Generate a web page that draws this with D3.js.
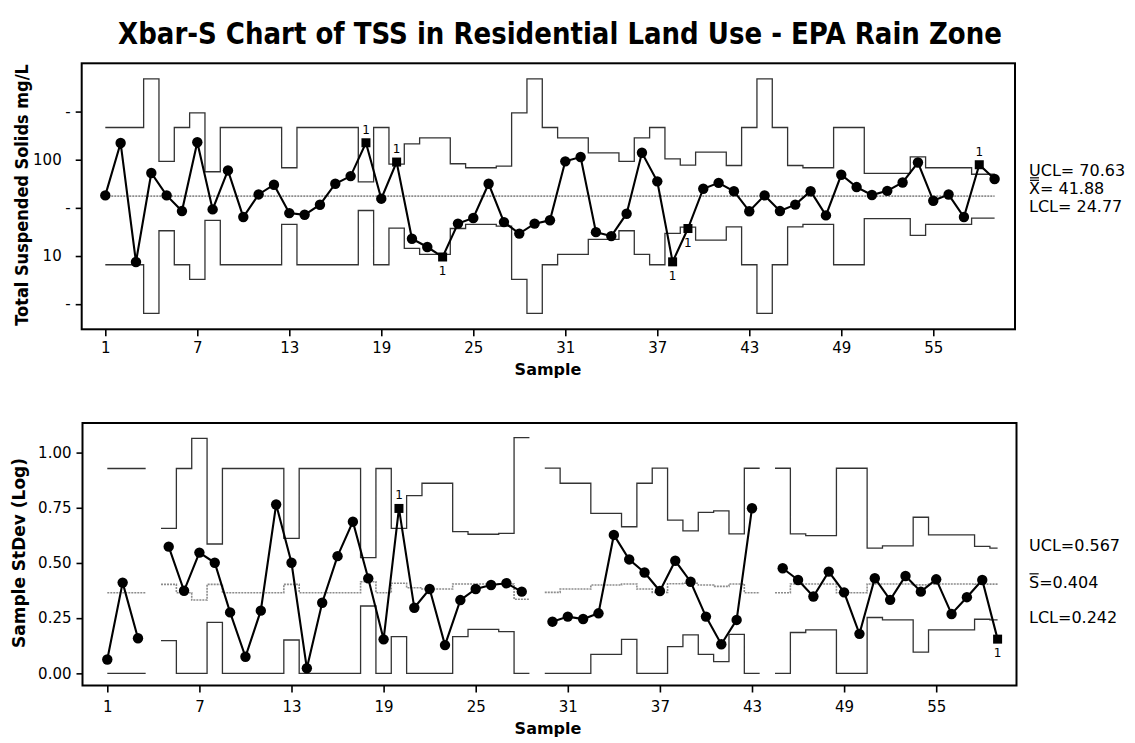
<!DOCTYPE html>
<html><head><meta charset="utf-8">
<script src="https://cdn.jsdelivr.net/npm/d3@7/dist/d3.min.js"></script>
<style>
body{margin:0;background:#fff;}
text{font-family:"DejaVu Sans",Verdana,sans-serif;fill:#000;}
</style>
</head><body>
<svg id="chart" width="1135" height="743"></svg>
<script>
// ---------------- DATA ----------------
const samples = d3.range(1, 60);
const xTickValues = [1, 7, 13, 19, 25, 31, 37, 43, 49, 55];

// Xbar chart (log scale, mg/L)
const xbarValues = [42.6,149,8.67,72.8,42.6,29.3,152,30.5,77.4,25.4,
  43.6,55.0,27.9,26.8,34.1,56.3,67.6,150,39.4,94.6,
  15.1,12.4,9.77,21.7,24.8,56.3,22.5,17.1,21.7,23.5,
  96.2,106.6,17.7,16.1,27.5,118,59.6,8.7,19.3,50,
  57.5,47.1,29.2,42.6,29.3,34.2,47.1,26.4,69.8,52,
  43,47.5,58,93.5,37.5,43.5,25.4,88.7,63];
const xbarUCL = [216,216,216,692,95.9,216,307,75.0,216,216,
  216,216,82.5,216,216,216,216,59.0,216,90.0,
  146,169,169,90.8,82.5,82.5,85.8,307,692,216,
  169,169,118,118,95.9,169,216,102,87.7,120,
  120,87.1,216,692,216,87.1,82.5,82.5,216,216,
  72.0,72.0,72.0,107,82.5,82.5,82.5,70.63,70.63];
const xbarLCL = [8.12,8.12,8.12,2.54,18.3,8.12,5.71,23.4,8.12,8.12,
  8.12,8.12,21.3,8.12,8.12,8.12,8.12,29.7,8.12,19.5,
  12.0,10.4,10.4,19.3,21.3,21.3,20.4,5.71,2.54,8.12,
  10.4,10.4,14.9,14.9,18.3,10.4,8.12,17.2,20.0,14.6,
  14.6,20.1,8.12,2.54,8.12,20.1,21.3,21.3,8.12,8.12,
  24.4,24.4,24.4,16.4,21.3,21.3,21.3,24.77,24.77];
const xbarCenter = 41.88;
const xbarFlagged = [18, 20, 23, 38, 39, 58];
const xbarTickValues = [3.162, 10, 31.62, 100, 316.2];
const xbarTickLabels = ["-", "10", "-", "100", "-"];
const xbarSummary = ["UCL= 70.63", "X= 41.88", "LCL= 24.77"];

// S chart (StDev of log values)
const stdevValues = [0.063,0.411,0.159,null,0.574,0.374,0.547,0.501,0.276,0.075,
  0.284,0.765,0.501,0.023,0.320,0.531,0.687,0.430,0.154,0.747,
  0.297,0.382,0.128,0.332,0.382,0.400,0.408,0.370,null,0.234,
  0.257,0.246,0.272,0.627,0.516,0.457,0.373,0.510,0.415,0.257,
  0.132,0.242,0.748,null,0.476,0.423,0.348,0.461,0.367,0.179,
  0.431,0.333,0.441,0.370,0.426,0.269,0.345,0.423,0.155];
const stdevUCL = [0.928,0.928,0.928,null,0.657,0.928,1.064,0.586,0.928,0.928,
  0.928,0.928,0.611,0.928,0.928,0.928,0.928,0.524,0.928,0.657,
  0.805,0.861,0.861,0.642,0.630,0.630,0.634,1.068,null,0.930,
  0.861,0.861,0.725,0.725,0.664,0.861,0.930,0.694,0.645,0.729,
  0.736,0.632,0.929,null,0.929,0.632,0.624,0.624,0.929,0.929,
  0.567,0.577,0.577,0.707,0.627,0.627,0.627,0.575,0.567];
const stdevCL = [0.365,0.365,0.365,null,0.403,0.365,0.332,0.403,0.365,0.365,
  0.365,0.365,0.403,0.365,0.365,0.365,0.365,0.415,0.365,0.408,
  0.388,0.382,0.382,0.405,0.405,0.405,0.405,0.336,null,0.367,
  0.382,0.382,0.400,0.400,0.405,0.382,0.367,0.406,0.408,0.400,
  0.394,0.405,0.365,null,0.365,0.405,0.405,0.405,0.365,0.365,
  0.405,0.405,0.405,0.401,0.405,0.405,0.405,0.404,0.404];
const stdevLCL = [0,0,0,null,0.148,0,0,0.231,0,0,
  0,0,0.151,0,0,0,0,0.305,0,0.166,
  0,0,0,0.166,0.199,0.199,0.189,0,null,0,
  0,0,0.086,0.086,0.154,0,0,0.121,0.174,0.086,
  0.053,0.177,0,null,0,0.185,0.197,0.197,0,0,
  0.253,0.242,0.242,0.096,0.197,0.197,0.197,0.245,0.242];
const stdevFlagged = [20, 59];
const stdevTickValues = [0, 0.25, 0.5, 0.75, 1.0];
const stdevSummary = ["UCL=0.567", "S=0.404", "LCL=0.242"];

// ---------------- DRAWING ----------------
const svg = d3.select("#chart");
const n = samples.length;

// text squeezed horizontally to a target width (Tahoma-like look) via transform
function fittedText(parent, str, cx, cy, size, width, rotate) {
  const t = parent.append("text").attr("x", 0).attr("y", 0).attr("text-anchor", "middle")
    .attr("font-size", size).attr("font-weight", "bold").text(str);
  const w = t.node().getComputedTextLength();
  const k = Math.min(1, width / w);
  t.attr("transform", `translate(${cx},${cy}) rotate(${rotate || 0}) scale(${k},1)`);
  return t;
}

fittedText(svg, "Xbar-S Chart of TSS in Residential Land Use - EPA Rain Zone", 560, 44, 31, 884, 0);

function stepRuns(vals, x) {
  const runs = []; let cur = null;
  vals.forEach((v, i) => {
    const s = samples[i];
    if (v == null) { cur = null; return; }
    if (!cur) { cur = []; runs.push(cur); }
    const x0 = i === 0 ? x(s) : x(s - 0.5);
    const x1 = i === n - 1 ? x(s) : x(s + 0.5);
    cur.push([x0, v], [x1, v]);
  });
  return runs;
}

function drawPanel(cfg) {
  const g = svg.append("g");
  const {x, y, frame} = cfg;
  const line = d3.line().x(d => d[0]).y(d => y(d[1]));
  cfg.center.forEach(run => {
    g.append("path").attr("d", line(run)).attr("fill", "none")
      .attr("stroke", "#8c8c8c").attr("stroke-width", 1.6).attr("stroke-dasharray", "2,1");
  });
  [cfg.ucl, cfg.lcl].forEach(runs => runs.forEach(run => {
    g.append("path").attr("d", line(run)).attr("fill", "none")
      .attr("stroke", "#333").attr("stroke-width", 1.3);
  }));
  const dl = d3.line().defined(d => d[1] != null).x(d => x(d[0])).y(d => y(d[1]));
  const pts = samples.map((s, i) => [s, cfg.values[i]]);
  g.append("path").attr("d", dl(pts)).attr("fill", "none")
    .attr("stroke", "#000").attr("stroke-width", 2.1);
  const valid = pts.filter(d => d[1] != null);
  g.selectAll("circle.pt").data(valid.filter(d => !cfg.flagged.includes(d[0])))
    .join("circle").attr("cx", d => x(d[0])).attr("cy", d => y(d[1])).attr("r", 5.2).attr("fill", "#000");
  const fl = valid.filter(d => cfg.flagged.includes(d[0]));
  g.selectAll("rect.fl").data(fl).join("rect")
    .attr("x", d => x(d[0]) - 4.5).attr("y", d => y(d[1]) - 4.5)
    .attr("width", 9).attr("height", 9).attr("fill", "#000");
  g.selectAll("text.fl").data(fl).join("text")
    .attr("x", d => x(d[0])).attr("y", d => d[1] > cfg.mid ? y(d[1]) - 9 : y(d[1]) + 18)
    .attr("text-anchor", "middle").attr("font-size", 12).text("1");
  g.append("rect").attr("x", frame.x).attr("y", frame.y).attr("width", frame.w).attr("height", frame.h)
    .attr("fill", "none").attr("stroke", "#000").attr("stroke-width", 2);
  const xa = g.append("g").attr("transform", `translate(0,${frame.y + frame.h})`)
    .call(d3.axisBottom(x).tickValues(xTickValues).tickSize(7).tickSizeOuter(0).tickPadding(cfg.xPad));
  xa.select(".domain").remove();
  xa.selectAll("line").attr("stroke", "#000").attr("stroke-width", 1.6);
  xa.selectAll("text").attr("font-size", 15).attr("font-family", "DejaVu Sans");
  g.append("text").attr("x", 548).attr("y", frame.y + frame.h + cfg.sampleDy).attr("text-anchor", "middle")
    .attr("font-size", 16).attr("font-weight", "bold").text("Sample");
  return g;
}

// ---- Top: Xbar chart ----
const xTop = d3.scaleLinear().domain([1, 59]).range([105.3, 994.6]);
const yTop = d3.scaleLog().domain([1.734, 1003]).range([329.3, 63.3]);
const topFrame = {x: 81.7, y: 63.3, w: 933.3, h: 266};
const gTop = drawPanel({
  x: xTop, y: yTop, frame: topFrame,
  values: xbarValues, flagged: xbarFlagged, mid: xbarCenter,
  center: [[[xTop(1), xbarCenter], [xTop(59), xbarCenter]]],
  ucl: stepRuns(xbarUCL, xTop), lcl: stepRuns(xbarLCL, xTop),
  sampleDy: 46, xPad: 6
});
const yaTop = gTop.append("g").attr("transform", `translate(${topFrame.x},0)`)
  .call(d3.axisLeft(yTop).tickValues(xbarTickValues).tickFormat((d, i) => xbarTickLabels[i])
    .tickSize(6).tickSizeOuter(0).tickPadding(14));
yaTop.select(".domain").remove();
yaTop.selectAll("line").attr("stroke", "#000").attr("stroke-width", 1.6);
yaTop.selectAll("text").attr("font-size", 15).attr("font-family", "DejaVu Sans")
  .attr("x", d => (xbarTickLabels[xbarTickValues.indexOf(d)] === "-" ? -11 : -20));
fittedText(gTop, "Total Suspended Solids mg/L", 28, 195, 17, 262, -90);

const topLabY = [176, 194, 212];
xbarSummary.forEach((t, i) => {
  const tx = gTop.append("text").attr("x", 1029).attr("y", topLabY[i]).attr("font-size", 16).text(t);
  if (i === 1) {
    const ext = tx.node().getExtentOfChar(0);
    const capTop = topLabY[i] - 16 * 0.73;
    [capTop - 2, capTop - 4.5].forEach(yy => gTop.append("line")
      .attr("x1", ext.x + 1).attr("x2", ext.x + ext.width - 1).attr("y1", yy).attr("y2", yy)
      .attr("stroke", "#000").attr("stroke-width", 1.2));
  }
});

// ---- Bottom: S chart ----
const xBot = d3.scaleLinear().domain([1, 59]).range([107.3, 997.6]);
const yBot = d3.scaleLinear().domain([-0.055, 1.134]).range([685.5, 423]);
const botFrame = {x: 82.5, y: 423, w: 934, h: 262.5};
const gBot = drawPanel({
  x: xBot, y: yBot, frame: botFrame,
  values: stdevValues, flagged: stdevFlagged, mid: 0.404,
  center: stepRuns(stdevCL, xBot),
  ucl: stepRuns(stdevUCL, xBot), lcl: stepRuns(stdevLCL, xBot),
  sampleDy: 48, xPad: 9
});
const yaBot = gBot.append("g").attr("transform", `translate(${botFrame.x},0)`)
  .call(d3.axisLeft(yBot).tickValues(stdevTickValues).tickFormat(d3.format(".2f"))
    .tickSize(6).tickSizeOuter(0).tickPadding(5));
yaBot.select(".domain").remove();
yaBot.selectAll("line").attr("stroke", "#000").attr("stroke-width", 1.6);
yaBot.selectAll("text").attr("font-size", 15).attr("font-family", "DejaVu Sans");
fittedText(gBot, "Sample StDev (Log)", 25, 553, 17, 224, -90);

const botLabY = [551, 588, 623];
stdevSummary.forEach((t, i) => {
  const tx = gBot.append("text").attr("x", 1029).attr("y", botLabY[i]).attr("font-size", 16).text(t);
  if (i === 1) {
    const ext = tx.node().getExtentOfChar(0);
    const capTop = botLabY[i] - 16 * 0.73;
    gBot.append("line").attr("x1", ext.x + 0.5).attr("x2", ext.x + ext.width - 0.5)
      .attr("y1", capTop - 2.5).attr("y2", capTop - 2.5).attr("stroke", "#000").attr("stroke-width", 1.2);
  }
});
</script>
</body></html>
